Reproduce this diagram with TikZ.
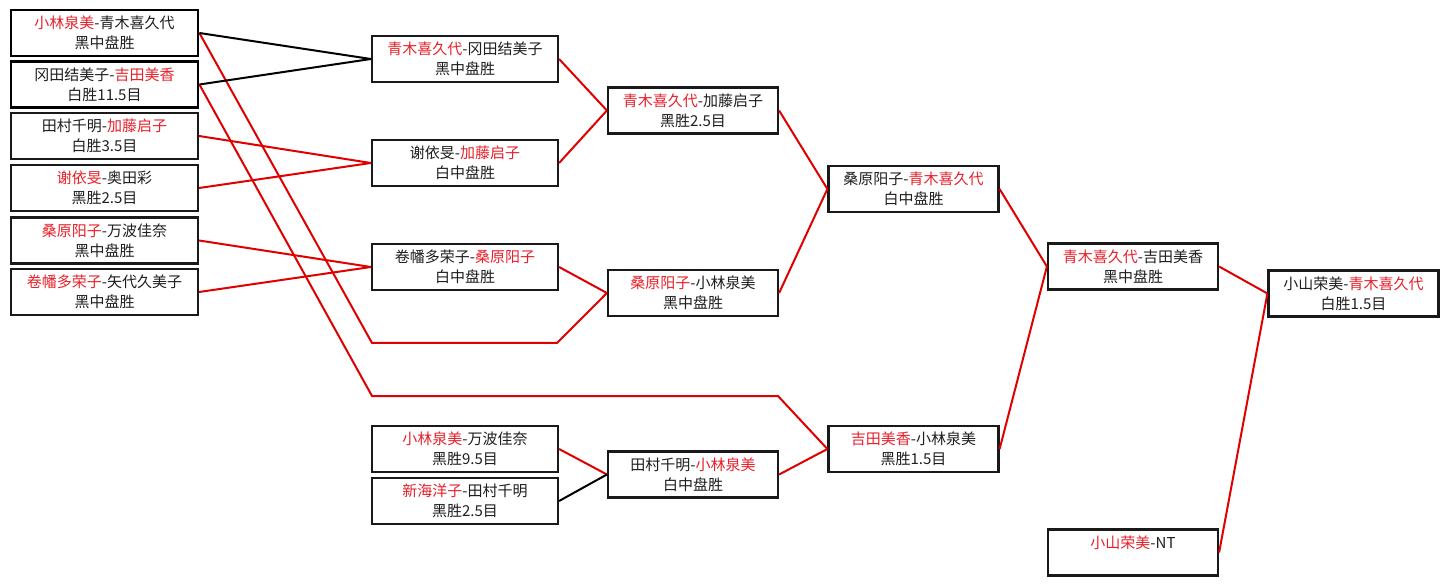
\documentclass[tikz,border=0pt]{standalone}
\usepackage{fontspec}
\setmainfont{Noto Sans CJK SC}
\definecolor{tred}{HTML}{E8202A}
\definecolor{lred}{HTML}{E00000}
\definecolor{tblk}{HTML}{1E1E1E}
\newcommand{\rd}[1]{\textcolor{tred}{#1}}
\begin{document}
\begin{tikzpicture}[x=1pt,y=-1pt,
  box/.style={draw=black!90, line width=2.2pt, rectangle, minimum height=46pt,
    inner sep=0pt, align=center, font=\fontsize{15}{20}\selectfont, text=tblk},
  wideA/.style={box, minimum width=187pt},
  wideB/.style={box, minimum width=186pt},
  narrow/.style={box, minimum width=170pt},
  heavy/.style={line width=2.8pt, draw=black},
  rline/.style={draw=lred, line width=2pt},
  kline/.style={draw=black, line width=2pt}]
\useasboundingbox (0,0) rectangle (1449,585);
\fill[white] (0,0) rectangle (1449,585);

% column 1
\node[wideA, heavy] (B1) at (104.5,33) {\rd{小林泉美}-青木喜久代\\黑中盘胜};
\node[wideA, heavy] (B2) at (104.5,84.5) {冈田结美子-\rd{吉田美香}\\白胜11.5目};
\node[wideA] (B3) at (104.5,136) {田村千明-\rd{加藤启子}\\白胜3.5目};
\node[wideA] (B4) at (104.5,188) {\rd{谢依旻}-奥田彩\\黑胜2.5目};
\node[wideA] (B5) at (104.5,240.5) {\rd{桑原阳子}-万波佳奈\\黑中盘胜};
\node[wideA] (B6) at (104.5,292) {\rd{卷幡多荣子}-矢代久美子\\黑中盘胜};

% column 2
\node[wideB] (C1) at (465,59) {\rd{青木喜久代}-冈田结美子\\黑中盘胜};
\node[wideB] (C2) at (465,163) {谢依旻-\rd{加藤启子}\\白中盘胜};
\node[wideB] (C3) at (465,267) {卷幡多荣子-\rd{桑原阳子}\\白中盘胜};
\node[wideB] (C4) at (465,449) {\rd{小林泉美}-万波佳奈\\黑胜9.5目};
\node[wideB] (C5) at (465,501) {\rd{新海洋子}-田村千明\\黑胜2.5目};

% column 3
\node[narrow] (D1) at (693,110.5) {\rd{青木喜久代}-加藤启子\\黑胜2.5目};
\node[narrow] (D2) at (693,293) {\rd{桑原阳子}-小林泉美\\黑中盘胜};
\node[narrow] (D3) at (693,474.5) {田村千明-\rd{小林泉美}\\白中盘胜};

% column 4
\node[narrow] (E1) at (913.5,189) {桑原阳子-\rd{青木喜久代}\\白中盘胜};
\node[narrow] (E2) at (913.5,449) {\rd{吉田美香}-小林泉美\\黑胜1.5目};

% column 5
\node[narrow] (F1) at (1133,266.5) {\rd{青木喜久代}-吉田美香\\黑中盘胜};
\node[narrow] (F2) at (1133,552.5) {\rd{小山荣美}-NT\\~};

% column 6
\node[narrow] (G1) at (1353.5,293.5) {小山荣美-\rd{青木喜久代}\\白胜1.5目};

% routing points
\coordinate (p1) at (372,343);
\coordinate (p2) at (557,343);
\coordinate (q1) at (372,396);
\coordinate (q2) at (778,396);

% connectors
\draw[rline] (B1.east) -- (p1) -- (p2) -- (D2.west);
\draw[rline] (B2.east) -- (q1) -- (q2) -- (E2.west);
\draw[kline] (B1.east) -- (C1.west);
\draw[kline] (B2.east) -- (C1.west);
\draw[rline] (B3.east) -- (C2.west);
\draw[rline] (B4.east) -- (C2.west);
\draw[rline] (B5.east) -- (C3.west);
\draw[rline] (B6.east) -- (C3.west);
\draw[rline] (C1.east) -- (D1.west);
\draw[rline] (C2.east) -- (D1.west);
\draw[rline] (C3.east) -- (D2.west);
\draw[rline] (C4.east) -- (D3.west);
\draw[kline] (C5.east) -- (D3.west);
\draw[rline] (D1.east) -- (E1.west);
\draw[rline] (D2.east) -- (E1.west);
\draw[rline] (D3.east) -- (E2.west);
\draw[rline] (E1.east) -- (F1.west);
\draw[rline] (E2.east) -- (F1.west);
\draw[rline] (F1.east) -- (G1.west);
\draw[rline] (F2.east) -- (G1.west);
\end{tikzpicture}
\end{document}
